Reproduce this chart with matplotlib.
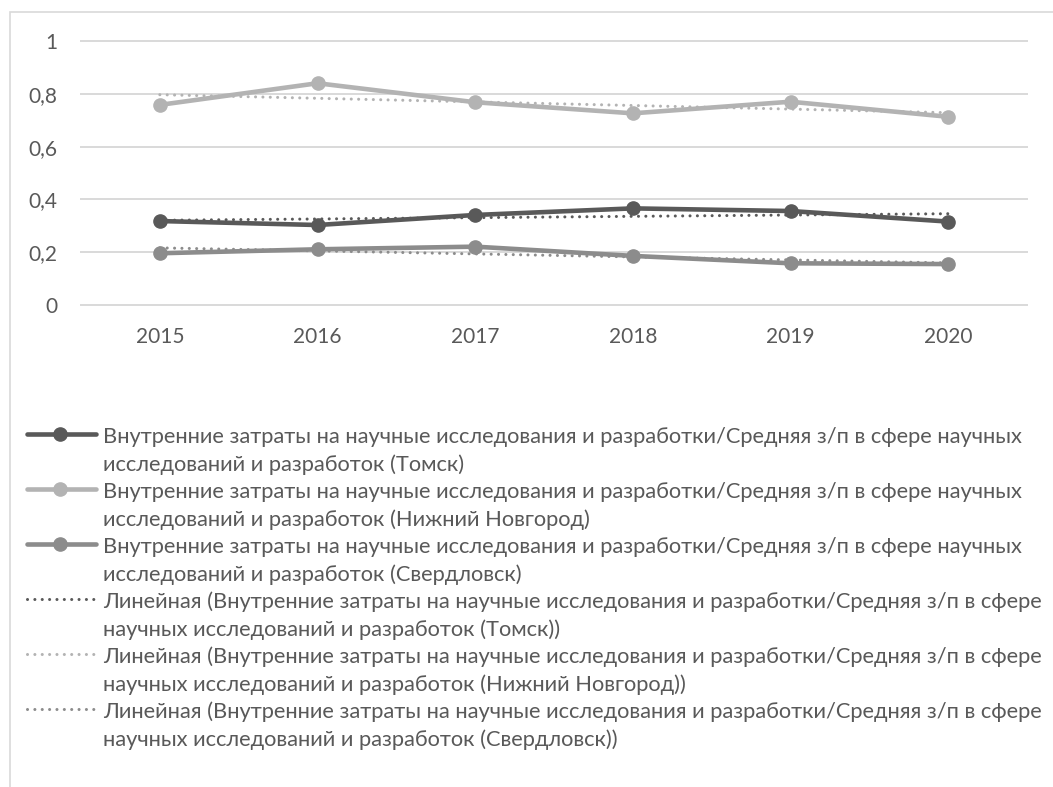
import matplotlib
matplotlib.use("Agg")
import matplotlib.pyplot as plt
from matplotlib.lines import Line2D
from matplotlib.patches import Rectangle
import numpy as np

plt.rcParams['font.family'] = ['Lato', 'DejaVu Sans']

years = ['2015', '2016', '2017', '2018', '2019', '2020']
tomsk = [0.318, 0.303, 0.341, 0.366, 0.356, 0.316]
nizhny = [0.758, 0.840, 0.768, 0.726, 0.770, 0.713]
sverdlovsk = [0.196, 0.211, 0.221, 0.186, 0.158, 0.155]
y_ticks = [0, 0.2, 0.4, 0.6, 0.8, 1.0]
y_tick_labels = ['0', '0,2', '0,4', '0,6', '0,8', '1']

legend_lines = [
    ['Внутренние затраты на научные исследования и разработки/Средняя з/п в сфере научных',
     'исследований и разработок (Томск)'],
    ['Внутренние затраты на научные исследования и разработки/Средняя з/п в сфере научных',
     'исследований и разработок (Нижний Новгород)'],
    ['Внутренние затраты на научные исследования и разработки/Средняя з/п в сфере научных',
     'исследований и разработок (Свердловск)'],
    ['Линейная (Внутренние затраты на научные исследования и разработки/Средняя з/п в сфере',
     'научных исследований и разработок (Томск))'],
    ['Линейная (Внутренние затраты на научные исследования и разработки/Средняя з/п в сфере',
     'научных исследований и разработок (Нижний Новгород))'],
    ['Линейная (Внутренние затраты на научные исследования и разработки/Средняя з/п в сфере',
     'научных исследований и разработок (Свердловск))'],
]

colors = ['#595959', '#b3b3b3', '#8c8c8c']
text_color = '#595959'
grid_color = '#d9d9d9'

W, H = 1053, 787
fig = plt.figure(figsize=(W / 100, H / 100), dpi=100)
fig.patch.set_facecolor('white')

# chart frame
fig.add_artist(Rectangle((10 / W, -0.01), 1.1, (H - 12) / H + 0.01,
                         transform=fig.transFigure, fill=False,
                         edgecolor=grid_color, linewidth=1.2))

ax = fig.add_axes([81 / W, (H - 305) / H, (1027 - 81) / W, (305 - 41) / H])
ax.set_facecolor('none')
x = np.arange(len(years))

series = [tomsk, nizhny, sverdlovsk]
dot_lw = 2.2
dot_style = (0, (0.01, 2.4))
for vals, c in zip(series, colors):
    k, b = np.polyfit(x, vals, 1)
    ax.plot(x, k * x + b, color=c, linewidth=dot_lw, linestyle=dot_style,
            dash_capstyle='round', zorder=4)
for vals, c in zip(series, colors):
    ax.plot(x, vals, color=c, linewidth=3.3, marker='o', markersize=9.5,
            solid_joinstyle='round', solid_capstyle='round', zorder=3)

ax.set_xlim(-0.5, len(years) - 0.5)
ax.set_ylim(0, 1)
ax.set_xticks(x)
ax.set_xticklabels(years)
ax.set_yticks(y_ticks)
ax.set_yticklabels(y_tick_labels)
ax.tick_params(length=0, labelsize=15, labelcolor=text_color)
ax.tick_params(axis='y', pad=17)
ax.tick_params(axis='x', pad=16)
for s in ax.spines.values():
    s.set_visible(False)
for t in y_ticks:
    ax.axhline(t, color=grid_color, linewidth=1.4, zorder=1, clip_on=False)

# legend drawn by hand: handle + two text rows per entry
row0 = 437
row_step = 27.5
text_x = 103 / W
fs = 12.0
probe = fig.text(text_x, 0.5, legend_lines[3][0], fontsize=fs)
fig.canvas.draw()
wpx = probe.get_window_extent().width
probe.remove()
fs = fs * (1046 - 103) / wpx

styles = []
for c in colors:
    styles.append(dict(color=c, linewidth=3.3, marker=None, solid_capstyle='round'))
for c in colors:
    styles.append(dict(color=c, linewidth=dot_lw, linestyle=dot_style, dash_capstyle='round'))

for i, (lines, st) in enumerate(zip(legend_lines, styles)):
    y1 = row0 + 2 * i * row_step
    y2 = y1 + row_step
    yf = (H - y1 + 3) / H
    fig.add_artist(Line2D([27 / W, 96 / W], [yf, yf], transform=fig.transFigure, **st))
    if i < 3:
        fig.add_artist(Line2D([60 / W], [yf], transform=fig.transFigure, color=st['color'],
                              marker='o', markersize=9.5, linestyle='none'))
    fig.text(text_x, (H - y1) / H, lines[0], fontsize=fs, color=text_color, va='center')
    fig.text(text_x, (H - y2) / H, lines[1], fontsize=fs, color=text_color, va='center')

fig.savefig('out.png', dpi=100, facecolor='white')
